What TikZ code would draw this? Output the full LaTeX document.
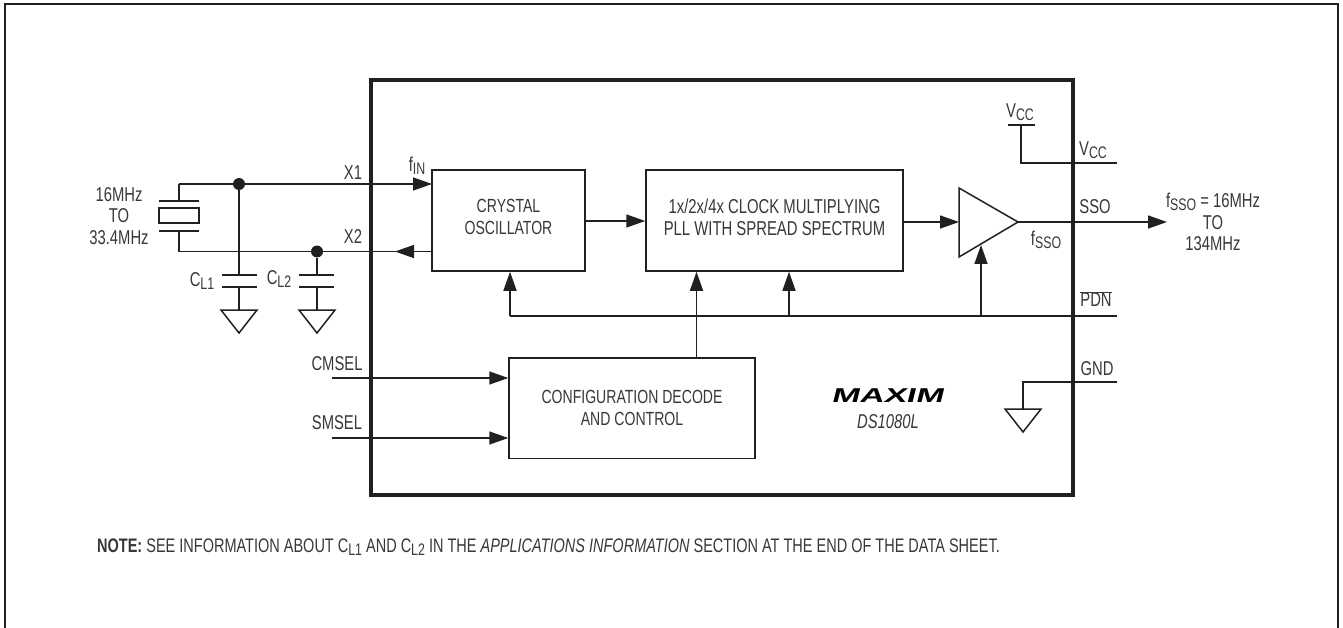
\documentclass[tikz,border=0pt]{standalone}
\usepackage{fontspec}
\setmainfont[FakeStretch=0.74]{Liberation Sans}
\newfontfamily\logofont[FakeStretch=1.68,FakeSlant=0.25]{Liberation Sans}
\usetikzlibrary{arrows.meta}
\definecolor{inkline}{HTML}{231F20}
\definecolor{inktext}{HTML}{3A3738}
\newcommand{\lowtxt}[1]{\raisebox{-0.3ex}{\fontsize{16.7}{16.7}\selectfont #1}}
\newcommand{\gndsym}[1]{\draw[wire, line join=miter] (#1) ++(-18,0) -- ++(36,0) -- ++(-18,23) -- cycle;}
\tikzset{
  wire/.style = {draw = inkline, line width = 1.5pt},
  flow/.style = {wire, -{Triangle[length = 19pt, width = 13pt]}},
  plate/.style = {draw = inkline, line width = 1.6pt},
  block/.style = {draw = inkline, line width = 1.5pt, fill = white, inner sep = 0pt, align = center, text = inktext, font = \fontsize{19}{22}\selectfont},
  lbl/.style = {inner sep = 0pt, align = center, text = inktext, font = \fontsize{20}{21.5}\selectfont},
  dot/.style = {circle, fill = inkline, inner sep = 0pt, minimum size = 12pt}
}

\begin{document}
\begin{tikzpicture}[x = 1pt, y = -1pt]
        \useasboundingbox (0,0) rectangle (1343,628);
        \fill[white] (0,0) rectangle (1343,628);
        \draw[inkline, line width = 2pt] (5,628) -- (5,4.5) -- (1338,4.5) -- (1338,628);

        % blocks
        \node[block, minimum width = 153pt, minimum height = 101pt] (osc) at (508.5,220.5) {CRYSTAL\\OSCILLATOR\\[-15pt]\rule{0pt}{0pt}};
        \node[block, minimum width = 257pt, minimum height = 101pt, font = \fontsize{20.1}{22}\selectfont] (pll) at (774.5,220.5) {1x/2x/4x CLOCK MULTIPLYING\\PLL WITH SPREAD SPECTRUM\\[-15pt]\rule{0pt}{0pt}};
        \node[block, minimum width = 246pt, minimum height = 100.5pt] (cfg) at (632,408) {CONFIGURATION DECODE\\AND CONTROL};

        \coordinate (ampw) at (959,222);
        \coordinate (ampt) at (1018,222);
        \coordinate (ampb) at (981,245);
        \draw[wire, line join = miter] (959,188) -- (ampt) -- (959,257) -- cycle;

        % crystal
        \coordinate (xa) at (179,184);
        \coordinate (xb) at (179,251.5);
        \coordinate (xtop) at (179,201);
        \coordinate (xbot) at (179,231);
        \coordinate (x1in) at (432,184);
        \coordinate (x2in) at (432,251.5);
        \coordinate (x2tip) at (395,251.5);
        \draw[wire] (xtop) -- (xa);
        \draw[flow] (xa) -- (x1in);
        \draw[wire] (xbot) -- (xb) -- (x2in);
        \draw[flow] (x2in) -- (x2tip);
        \draw[plate] (159,201) -- (199,201);
        \draw[plate] (159,231) -- (199,231);
        \draw[plate] (159,208) rectangle (199,223);

        % load caps
        \node[dot] (d1) at (239,184) {};
        \node[dot] (d2) at (317,251.5) {};
        \coordinate (c1a) at (239,275);
        \coordinate (c1b) at (239,287);
        \coordinate (g1) at (239,310);
        \coordinate (c2a) at (317,275);
        \coordinate (c2b) at (317,287);
        \coordinate (g2) at (317,310);
        \draw[wire] (d1) -- (c1a);
        \draw[wire] (c1b) -- (g1);
        \draw[wire] (d2) -- (c2a);
        \draw[wire] (c2b) -- (g2);
        \draw[plate] (222,275) -- (257,275);
        \draw[plate] (222,287) -- (257,287);
        \draw[plate] (299,275) -- (334,275);
        \draw[plate] (299,287) -- (334,287);
        \gndsym{g1}
        \gndsym{g2}

        % signal path
        \draw[flow] (osc.east |- 0,221) -- (pll.west |- 0,221);
        \draw[flow] (pll.east |- 0,222) -- (ampw);
        \coordinate (sso) at (1167,222);
        \draw[flow] (ampt) -- (sso);

        % power down and control
        \coordinate (pdn) at (1117,316);
        \coordinate (pdna) at (510,316);
        \coordinate (pdnb) at (789,316);
        \coordinate (pdnc) at (981,316);
        \draw[wire] (pdna) -- (pdn);
        \draw[flow] (pdna) -- (pdna |- osc.south);
        \draw[flow] (pdnb) -- (pdnb |- pll.south);
        \draw[flow] (pdnc) -- (ampb);
        \coordinate (cfgtop) at (696.5,357.7);
        \draw[flow] (cfgtop) -- (cfgtop |- pll.south);
        \coordinate (cms) at (331.5,378);
        \coordinate (sms) at (331.5,438);
        \draw[flow] (cms) -- (cms -| cfg.west);
        \draw[flow] (sms) -- (sms -| cfg.west);

        % supply pins
        \coordinate (vbar) at (1021,125);
        \coordinate (vpin) at (1117,163);
        \coordinate (gpin) at (1117,382);
        \coordinate (g3) at (1023,409);
        \draw[plate] (1008,125) -- (1035,125);
        \draw[wire] (vbar) -- (1021,163) -- (vpin);
        \draw[wire] (gpin) -- (1023,382) -- (g3);
        \gndsym{g3}

        % package outline
        \draw[inkline, line width = 4pt, line join = miter] (370.5,80) rectangle (1073,495);

        % labels
        \node[lbl] (lxtal) at (119,216) {16MHz\\TO\\33.4MHz};
        \node[lbl] (lx1) at (353,173) {X1};
        \node[lbl] (lx2) at (353,237) {X2};
        \node[lbl] (lfin) at (417,166) {f\lowtxt{IN}};
        \node[lbl] (lcl1) at (202,281) {C\lowtxt{L1}};
        \node[lbl] (lcl2) at (279,279) {C\lowtxt{L2}};
        \node[lbl] (lcms) at (337,364) {CMSEL};
        \node[lbl] (lsms) at (337,423) {SMSEL};
        \node[lbl] (lvt) at (1020,112) {V\lowtxt{CC}};
        \node[lbl] (lvr) at (1093,150) {V\lowtxt{CC}};
        \node[lbl] (lsso) at (1095,207) {SSO};
        \node[lbl] (lfsso) at (1046,240) {f\lowtxt{SSO}};
        \node[lbl] (lpdn) at (1096,299) {$\overline{\mbox{PDN}}$};
        \node[lbl] (lgnd) at (1097,369) {GND};
        \node[lbl] (lout) at (1213,222) {f\lowtxt{SSO} = 16MHz\\TO\\134MHz};
        \node[lbl, font = \fontsize{20}{20}\logofont\bfseries, text = black] (llogo) at (887,396) {MAXIM};
        \node[lbl] (lpart) at (888,422) {\itshape DS1080L};
        \node[lbl, anchor = west, font = \fontsize{19.6}{20}\selectfont] (lnote) at (97,547) {\textbf{NOTE:} SEE INFORMATION ABOUT C\lowtxt{L1} AND C\lowtxt{L2} IN THE \textit{APPLICATIONS INFORMATION} SECTION AT THE END OF THE DATA SHEET.};
      \end{tikzpicture}
\end{document}
